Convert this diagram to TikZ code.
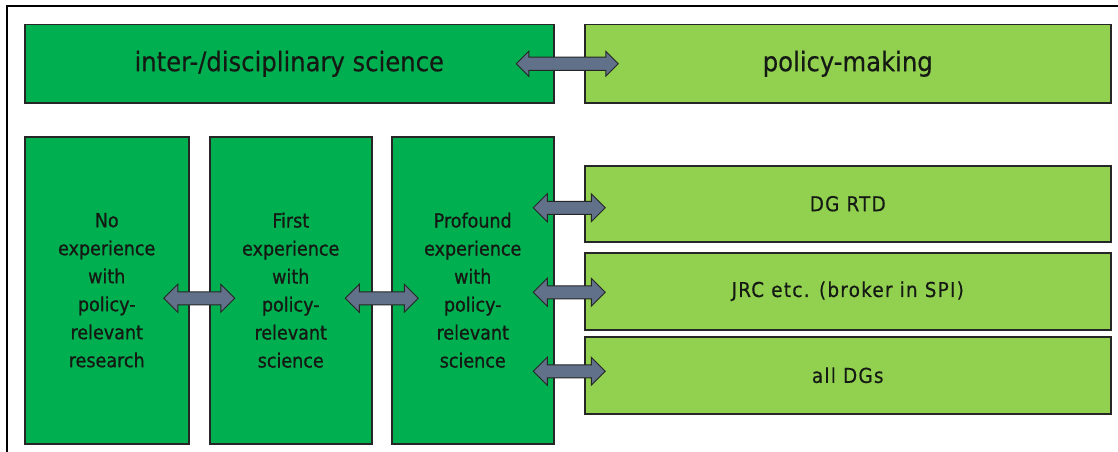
\documentclass[tikz,border=0pt]{standalone}
\usepackage{fontspec}
\setmainfont{DejaVu Sans Condensed}[FakeBold=0.4]
\newfontfamily\colfont{DejaVu Sans Condensed}[FakeBold=0.9]
\usetikzlibrary{shapes.arrows,calc}
\definecolor{dgreen}{RGB}{0,176,80}
\definecolor{lgreen}{RGB}{146,208,80}
\definecolor{slate}{RGB}{96,113,137}
\definecolor{txt}{RGB}{20,25,20}
\tikzset{
  box/.style={draw=black!85, line width=1.5pt, anchor=north west, inner sep=0pt, text=txt, align=center},
  dbox/.style={box, fill=dgreen},
  lbox/.style={box, fill=lgreen},
  coltext/.style={font=\colfont\fontsize{19.5}{28}\selectfont},
  toptext/.style={font=\fontsize{27}{30}\selectfont},
  rtext/.style={font=\fontsize{20.5}{24}\selectfont\addfontfeature{LetterSpace=6}},
  dblarrow/.style={double arrow, draw=black!85, line width=1pt, fill=slate,
    inner xsep=0pt, inner ysep=6pt, text height=0pt, text depth=0pt,
    double arrow head extend=7.5pt, double arrow tip angle=90},
}
\begin{document}
\begin{tikzpicture}[x=1pt,y=-1pt]
\useasboundingbox (0,0) rectangle (1118,452);
\coordinate (fb) at (7,452);
\coordinate (fc) at (7,6);
\coordinate (fr) at (1118,6);
\draw[line width=2pt, black] (fb) -- (fc) -- (fr);

\node[dbox, toptext, minimum width=529pt, minimum height=78pt] (sci) at (24,24) {inter-/disciplinary science};
\node[lbox, toptext, minimum width=526pt, minimum height=78pt] (pol) at (584,24) {policy-making};

\node[dbox, coltext, minimum width=164pt, minimum height=307pt] (c1) at (24,136) {No\\experience\\with\\policy-\\relevant\\research};
\node[dbox, coltext, minimum width=162pt, minimum height=307pt] (c2) at (209,136) {First\\experience\\with\\policy-\\relevant\\science};
\node[dbox, coltext, minimum width=162pt, minimum height=307pt] (c3) at (391,136) {Profound\\experience\\with\\policy-\\relevant\\science};

\node[lbox, rtext, minimum width=526pt, minimum height=76pt] (rtd) at (584,165) {DG RTD};
\node[lbox, rtext, minimum width=526pt, minimum height=77pt] (jrc) at (584,252) {JRC etc. (broker in SPI)};
\node[lbox, rtext, minimum width=526pt, minimum height=77pt] (all) at (584,336) {all DGs};

\node[dblarrow, minimum height=102pt, double arrow head extend=6pt, xshift=-2pt] (a0) at ($(sci.east)!0.5!(pol.west)$) {};
\node[dblarrow, minimum height=71pt, yshift=-8pt] (a1) at ($(c1.east)!0.5!(c2.west)$) {};
\node[dblarrow, minimum height=73pt, yshift=-8pt] (a2) at ($(c2.east)!0.5!(c3.west)$) {};
\node[dblarrow, minimum height=72pt, yshift=-4pt] (a3) at ($(c3.east |- rtd.west)!0.5!(rtd.west)$) {};
\node[dblarrow, minimum height=72pt, yshift=-1pt] (a4) at ($(c3.east |- jrc.west)!0.5!(jrc.west)$) {};
\node[dblarrow, minimum height=72pt, yshift=4pt] (a5) at ($(c3.east |- all.west)!0.5!(all.west)$) {};
\end{tikzpicture}
\end{document}
